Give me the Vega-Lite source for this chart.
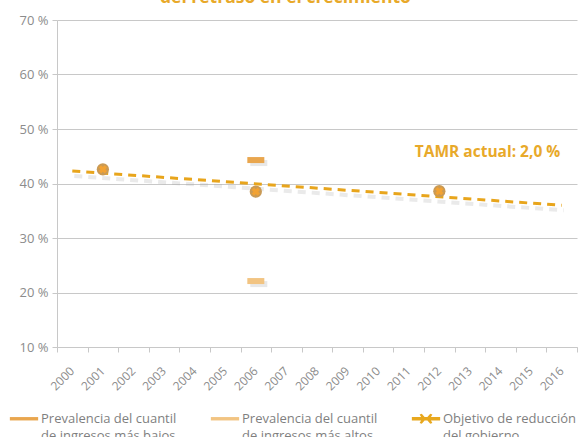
{
  "$schema": "https://vega.github.io/schema/vega-lite/v6.json",
  "autosize": "none",
  "width": 520,
  "height": 327,
  "padding": {"left": 57, "top": 20, "right": 2, "bottom": 90},
  "background": "white",
  "config": {
    "view": {"stroke": null},
    "font": "Open Sans",
    "style": {"guide-label": {"lineHeight": 17}},
    "axis": {"labelColor": "#8c8c8c", "domainColor": "#c8c8c8", "tickColor": "#c8c8c8", "gridColor": "#c8c8c8", "labelFont": "Open Sans", "titleFont": "Open Sans"},
    "legend": {"labelFont": "Open Sans", "labelColor": "#7f7f7f", "labelFontSize": 13, "symbolOpacity": 1}
  },
  "datasets": {
    "bajos": [
      {"year": "2006", "value": 44.3}
    ],
    "altos": [
      {"year": "2006", "value": 22.1}
    ],
    "obs": [
      {"year": "2001", "value": 42.6},
      {"year": "2006", "value": 38.5},
      {"year": "2012", "value": 38.6}
    ],
    "trend": [
      {"year": "2000", "value": 42.3},
      {"year": "2016", "value": 36.0}
    ],
    "note": [
      {"year": "2014", "value": 45.8, "label": "TAMR actual: 2,0 %"}
    ],
    "heading": [
      {"year": "2007", "value": 73.2, "label": "del retraso en el crecimiento"}
    ],
    "legend": [
      {"year": "2006", "value": 44.3, "serie": "Prevalencia del cuantil\nde ingresos más bajos"},
      {"year": "2006", "value": 22.1, "serie": "Prevalencia del cuantil\nde ingresos más altos"},
      {"year": "2006", "value": 38.5, "serie": "Objetivo de reducción\ndel gobierno"}
    ]
  },
  "encoding": {
    "x": {
      "field": "year", "type": "ordinal",
      "scale": {"domain": ["2000","2001","2002","2003","2004","2005","2006","2007","2008","2009","2010","2011","2012","2013","2014","2015","2016"], "paddingInner": 0, "paddingOuter": 0},
      "axis": {"title": null, "labelAngle": -45, "labelFontSize": 12, "tickSize": 5, "tickBand": "extent", "domainColor": "#c8c8c8", "labelPadding": 13, "labelOffset": -4, "grid": false}
    },
    "y": {
      "field": "value", "type": "quantitative",
      "scale": {"domain": [10, 70], "nice": false, "zero": false},
      "axis": {"title": null, "values": [10,20,30,40,50,60,70], "labelExpr": "datum.value + ' %'", "labelFontSize": 13, "tickSize": 5, "grid": true, "labelPadding": 4}
    }
  },
  "layer": [
    {
      "data": {"name": "bajos"},
      "mark": {"type": "tick", "orient": "horizontal", "size": 17, "thickness": 6, "color": "#bdbdbd", "opacity": 0.35, "yOffset": 3, "xOffset": 3},
      "encoding": {}
    },
    {
      "data": {"name": "altos"},
      "mark": {"type": "tick", "orient": "horizontal", "size": 17, "thickness": 6, "color": "#bdbdbd", "opacity": 0.35, "yOffset": 3, "xOffset": 3},
      "encoding": {}
    },
    {
      "data": {"name": "bajos"},
      "mark": {"type": "tick", "orient": "horizontal", "size": 17, "thickness": 6, "color": "#E9A64E", "opacity": 1},
      "encoding": {}
    },
    {
      "data": {"name": "altos"},
      "mark": {"type": "tick", "orient": "horizontal", "size": 17, "thickness": 6, "color": "#F2C482", "opacity": 1},
      "encoding": {}
    },
    {
      "data": {"name": "trend"},
      "mark": {"type": "line", "color": "#9e9e9e", "opacity": 0.22, "strokeWidth": 4, "strokeDash": [8, 6], "yOffset": 5, "xOffset": 2},
      "encoding": {}
    },
    {
      "data": {"name": "trend"},
      "mark": {"type": "line", "color": "#E8A51C", "strokeWidth": 3, "strokeDash": [8, 6]},
      "encoding": {}
    },
    {
      "data": {"name": "obs"},
      "mark": {"type": "point", "shape": "circle", "filled": true, "size": 150, "color": "#C99A55", "opacity": 1},
      "encoding": {}
    },
    {
      "data": {"name": "obs"},
      "mark": {"type": "point", "shape": "cross", "angle": 45, "filled": true, "size": 70, "color": "#F2A233", "opacity": 1},
      "encoding": {}
    },
    {
      "data": {"name": "note"},
      "mark": {"type": "text", "font": "Open Sans", "fontWeight": "bold", "fontSize": 15.5, "color": "#E8A92A", "align": "center", "dx": -13},
      "encoding": {"text": {"field": "label"}}
    },
    {
      "data": {"name": "heading"},
      "mark": {"type": "text", "font": "Open Sans", "fontWeight": "bold", "fontSize": 17.5, "color": "#E8A92A", "align": "center", "baseline": "alphabetic", "clip": false, "dx": -1},
      "encoding": {"text": {"field": "label"}}
    },
    {
      "data": {"name": "legend"},
      "mark": {"type": "point", "filled": true, "opacity": 0},
      "encoding": {
        "color": {
          "field": "serie", "type": "nominal",
          "scale": {"domain": ["Prevalencia del cuantil\nde ingresos más bajos", "Prevalencia del cuantil\nde ingresos más altos", "Objetivo de reducción\ndel gobierno"], "range": ["#E9A64E", "#F2C482", "#E8A81E"]},
          "legend": {"title": null, "orient": "none", "legendX": -48, "legendY": 388, "direction": "horizontal", "columnPadding": 30, "symbolSize": 800, "labelOffset": 2, "labelExpr": "split(datum.label, '\\n')", "labelBaseline": "alphabetic"}
        },
        "shape": {
          "field": "serie", "type": "nominal",
          "scale": {"domain": ["Prevalencia del cuantil\nde ingresos más bajos", "Prevalencia del cuantil\nde ingresos más altos", "Objetivo de reducción\ndel gobierno"], "range": ["M-1,-0.42H1V-0.18H-1Z", "M-1,-0.42H1V-0.18H-1Z", "M-1,-0.42H-0.35L-0.45,-0.6L-0.3,-0.66L-0.1,-0.42H0.1L0.3,-0.66L0.45,-0.6L0.35,-0.42H1V-0.18H0.35L0.45,0L0.3,0.06L0.1,-0.18H-0.1L-0.3,0.06L-0.45,0L-0.35,-0.18H-1Z"]}
        }
      }
    }
  ]
}
